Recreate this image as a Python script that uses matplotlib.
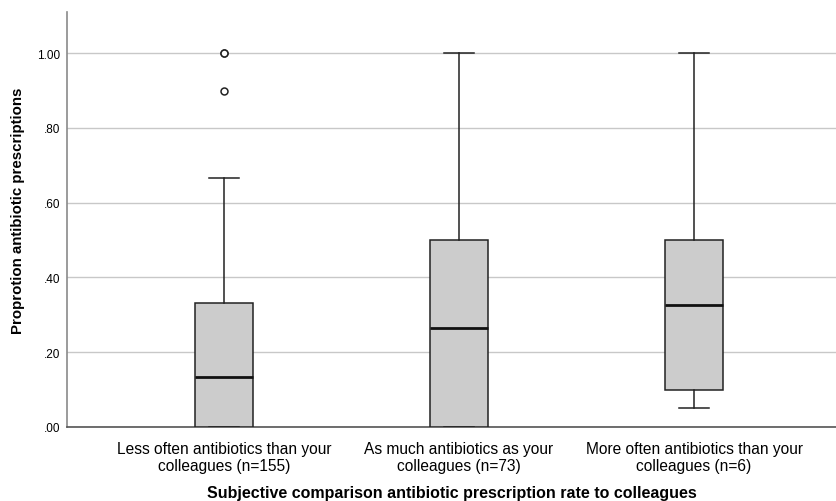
import matplotlib
matplotlib.use('Agg')
import matplotlib.pyplot as plt
from matplotlib.ticker import FuncFormatter

# ── data ──
groups = ['Less often antibiotics than your\ncolleagues (n=155)',
          'As much antibiotics as your\ncolleagues (n=73)',
          'More often antibiotics than your\ncolleagues (n=6)']
whisker_low = [0.0, 0.0, 0.05]
q1 = [0.0, 0.0, 0.10]
medians = [0.133, 0.265, 0.325]
q3 = [0.333, 0.50, 0.50]
whisker_high = [0.667, 1.0, 1.0]
outliers = [[1.0, 1.0, 0.90], [], []]

yticks = [0.0, 0.2, 0.4, 0.6, 0.8, 1.0]

plt.rcParams['font.family'] = ['Liberation Sans', 'DejaVu Sans']

fig = plt.figure(figsize=(8.36, 5.02), dpi=100)
ax = fig.add_axes([67 / 836, 74 / 502, 1 - 67 / 836, (428 - 13) / 502])

stats = []
for i in range(len(groups)):
    stats.append(dict(med=medians[i], q1=q1[i], q3=q3[i],
                      whislo=whisker_low[i], whishi=whisker_high[i],
                      fliers=outliers[i]))

positions = [1, 2, 3]
ax.bxp(stats, positions=positions, widths=0.25, patch_artist=True,
       showfliers=True,
       boxprops=dict(facecolor='#cccccc', edgecolor='#222222', linewidth=1.1),
       medianprops=dict(color='#111111', linewidth=2.0),
       whiskerprops=dict(color='#222222', linewidth=1.1),
       capprops=dict(color='#222222', linewidth=1.1),
       capwidths=0.125,
       flierprops=dict(marker='o', markerfacecolor='white',
                       markeredgecolor='#222222', markersize=5,
                       markeredgewidth=1.1),
       zorder=3)

ax.set_xlim(0.332, 3.604)
ax.set_ylim(0, 1.11)
ax.set_yticks(yticks)
ax.yaxis.set_major_formatter(FuncFormatter(
    lambda v, p: ('%.2f' % v) if v >= 1 else ('%.2f' % v)[1:]))
ax.tick_params(axis='y', length=0, labelsize=8.5, pad=5)
ax.tick_params(axis='x', length=0, labelsize=11.2, pad=10)
ax.set_xticks(positions)
ax.set_xticklabels(groups, linespacing=1.15)

ax.yaxis.grid(True, color='#c8c8c8', linewidth=1.0, zorder=0)
ax.set_axisbelow(True)

ax.spines['top'].set_visible(False)
ax.spines['right'].set_visible(False)
ax.spines['left'].set_color('#8a8a8a')
ax.spines['left'].set_linewidth(1.2)
ax.spines['bottom'].set_color('#555555')
ax.spines['bottom'].set_linewidth(1.2)

ax.set_ylabel('Proprotion antibiotic prescriptions', fontsize=10.8,
              fontweight='bold')
ax.yaxis.set_label_coords(-0.0546, 0.523)
ax.set_xlabel('Subjective comparison antibiotic prescription rate to colleagues',
              fontsize=11.5, fontweight='bold', labelpad=9)

fig.savefig('out.png', dpi=100, facecolor='white')
plt.close()
